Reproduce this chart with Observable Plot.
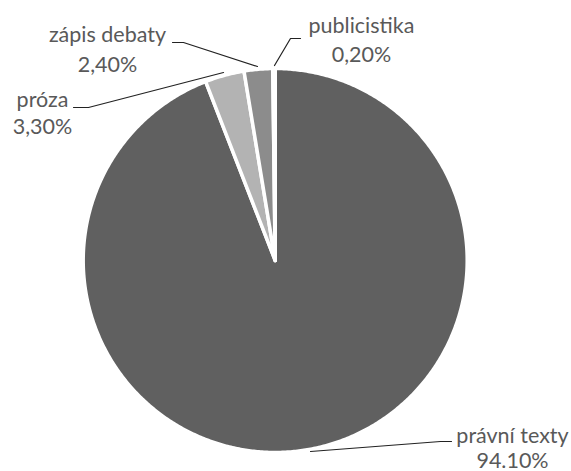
<!DOCTYPE html>
<html>
<head>
<meta charset="utf-8">
<script src="https://cdn.jsdelivr.net/npm/d3@7"></script>
<script src="https://cdn.jsdelivr.net/npm/@observablehq/plot@0.6"></script>
<style>
  html, body { margin: 0; padding: 0; background: #fff; }
  svg { display: block; }
</style>
</head>
<body>
<div id="chart"></div>
<script>
const categories = ["právní texty", "próza", "zápis debaty", "publicistika"];
const values = [94.1, 3.3, 2.4, 0.2];
const valueLabels = ["94.10%", "3,30%", "2,40%", "0,20%"];

// layout
const W = 571, H = 471;
const cx = 274.7, cy = 260, R = 192;
const sliceColors = ["#606060", "#b3b3b3", "#8c8c8c", "#ffffff"];

const arcs = d3.pie().sort(null).value(d => d.value)(
  categories.map((c, i) => ({ key: c, value: values[i] }))
);

const slicePts = [];
for (const a of arcs) {
  const key = a.data.key;
  slicePts.push({ key, x: cx, y: cy });
  const steps = Math.max(2, Math.ceil((a.endAngle - a.startAngle) / (Math.PI / 360)));
  for (let s = 0; s <= steps; s++) {
    const t = a.startAngle + (a.endAngle - a.startAngle) * s / steps;
    slicePts.push({ key, x: cx + R * Math.sin(t), y: cy - R * Math.cos(t) });
  }
  slicePts.push({ key, x: cx, y: cy });
}

// label placement (layout)
const labelPos = {
  "právní texty": { x: 512, y1: 442, y2: 467 },
  "próza": { x: 42, y1: 106, y2: 133 },
  "zápis debaty": { x: 107, y1: 41, y2: 71 },
  "publicistika": { x: 361, y1: 32, y2: 61 }
};
const leaders = {
  "právní texty": [[310, 451], [440, 441], [451, 441]],
  "próza": [[223, 72], [88, 107], [73, 107]],
  "zápis debaty": [[257, 66], [183, 42], [172, 42]],
  "publicistika": [[274, 65], [290, 38], [300, 38]]
};
const leaderPts = [];
categories.forEach(c => leaders[c].forEach(([x, y]) => leaderPts.push({ key: c, x, y })));

const names = categories.map((c, i) => ({ key: c, label: c, x: labelPos[c].x, y: labelPos[c].y1 }));
const pcts = categories.map((c, i) => ({ key: c, label: valueLabels[i], x: labelPos[c].x, y: labelPos[c].y2 }));

const chart = Plot.plot({
  width: W,
  height: H,
  margin: 0,
  style: { fontFamily: "Lato, 'Open Sans', sans-serif", background: "#fff" },
  x: { domain: [0, W], range: [0, W], axis: null },
  y: { domain: [0, H], range: [0, H], axis: null },
  color: { domain: categories, range: sliceColors },
  marks: [
    Plot.line(slicePts, {
      x: "x", y: "y", z: "key", fill: "key",
      stroke: "#ffffff", strokeWidth: 3.5, strokeLinejoin: "round"
    }),
    Plot.line(leaderPts, {
      x: "x", y: "y", z: "key", stroke: "#222", strokeWidth: 1.2
    }),
    Plot.text(names, {
      x: "x", y: "y", text: "label", textAnchor: "middle", lineAnchor: "bottom",
      fontSize: 21.5, fill: "#595959"
    }),
    Plot.text(pcts, {
      x: "x", y: "y", text: "label", textAnchor: "middle", lineAnchor: "bottom",
      fontSize: 21.5, fill: "#595959"
    })
  ]
});
document.getElementById("chart").appendChild(chart);
</script>
</body>
</html>
